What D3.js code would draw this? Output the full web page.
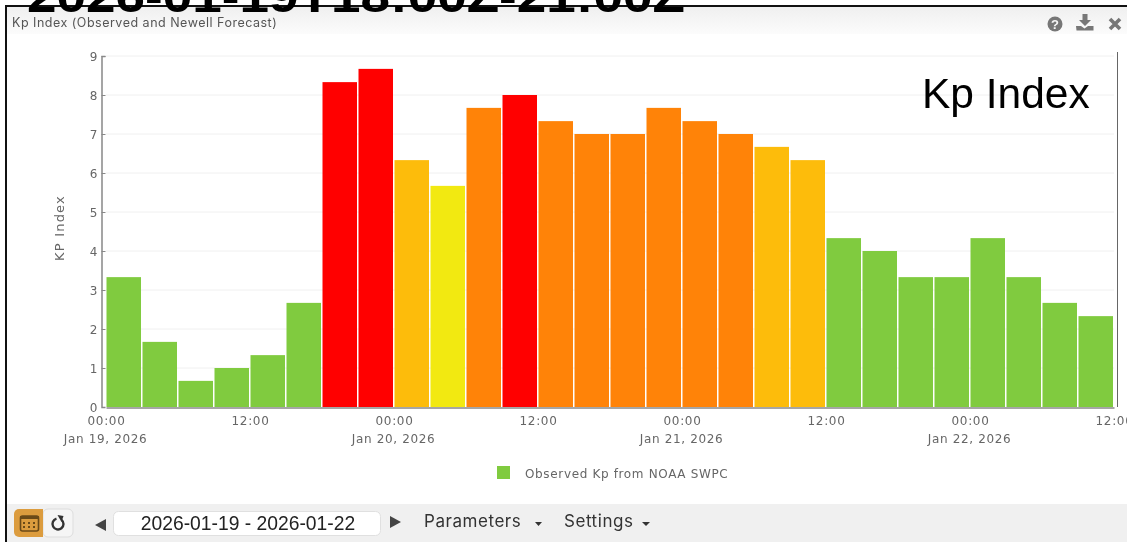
<!DOCTYPE html>
<html>
<head>
<meta charset="utf-8">
<script src="https://cdn.jsdelivr.net/npm/d3@7"></script>
<style>
  html, body { margin: 0; padding: 0; background: #fff; overflow: hidden; }
  svg { display: block; filter: blur(0.35px); }
  .tick-text { font-family: "DejaVu Sans", sans-serif; font-size: 12px; letter-spacing: 0.65px; fill: #666; }
</style>
</head>
<body>
<svg width="1127" height="542"></svg>
<script>
// 3 hourly Kp values, Jan 19 00:00 onward
const startTime = "2026-01-19T00:00:00Z";
const kpValues = [3.33, 1.67, 0.67, 1, 1.33, 2.67, 8.33, 8.67, 6.33, 5.67, 7.67, 8, 7.33, 7,
                  7, 7.67, 7.33, 7, 6.67, 6.33, 4.33, 4, 3.33, 3.33, 4.33, 3.33, 2.67, 2.33];
const kpTicks = [0, 1, 2, 3, 4, 5, 6, 7, 8, 9];
const timeTicks = ["2026-01-19T00:00:00Z", "2026-01-19T12:00:00Z", "2026-01-20T00:00:00Z",
                   "2026-01-20T12:00:00Z", "2026-01-21T00:00:00Z", "2026-01-21T12:00:00Z",
                   "2026-01-22T00:00:00Z", "2026-01-22T12:00:00Z"];
const colorBreaks = [5, 6, 7, 8];
const barColors = ["#80cb3f", "#f2e911", "#fdbc0b", "#ff8308", "#ff0000"];
const legendLabel = "Observed Kp from NOAA SWPC";

const threeHours = 3 * 3600 * 1000;
const bars = kpValues.map((v, i) => ({
    start: new Date(+new Date(startTime) + i * threeHours),
    end: new Date(+new Date(startTime) + (i + 1) * threeHours),
    kp: v
}));

const svg = d3.select("svg");

const x = d3.scaleUtc()
    .domain([new Date(startTime), bars[bars.length - 1].end])
    .range([106, 1114]);
const y = d3.scaleLinear().domain([0, 9]).range([407, 56]);
const color = d3.scaleThreshold().domain(colorBreaks).range(barColors);

// page + panel
svg.append("rect").attr("width", 1127).attr("height", 542).attr("fill", "#fff");

const grad = svg.append("defs").append("linearGradient")
    .attr("id", "head").attr("x1", 0).attr("x2", 0).attr("y1", 0).attr("y2", 1);
grad.append("stop").attr("offset", 0).attr("stop-color", "#efefef");
grad.append("stop").attr("offset", 1).attr("stop-color", "#fcfcfc");

svg.append("rect").attr("x", 7).attr("y", 7).attr("width", 1120).attr("height", 27).attr("fill", "url(#head)");
svg.append("rect").attr("x", 7).attr("y", 504).attr("width", 1120).attr("height", 38).attr("fill", "#f0f0f0");

svg.append("rect").attr("x", 5).attr("y", 5).attr("width", 2).attr("height", 537).attr("fill", "#111");
svg.append("rect").attr("x", 5).attr("y", 5).attr("width", 1122).attr("height", 2).attr("fill", "#111");

// big caption, runs off the top of the picture
svg.append("text")
    .attr("x", 27).attr("y", 11.5)
    .attr("font-family", "Liberation Sans").attr("font-weight", "bold")
    .attr("font-size", 44).attr("fill", "#000")
    .attr("textLength", 658).attr("lengthAdjust", "spacingAndGlyphs")
    .text("2026-01-19T18:00Z-21:00Z");

svg.append("text")
    .attr("x", 12).attr("y", 26.5)
    .attr("font-family", "Inter").attr("font-size", 12.5).attr("letter-spacing", 0.5).attr("fill", "#555")
    .text("Kp Index (Observed and Newell Forecast)");

// header icons
const iconColor = "#777";
svg.append("circle").attr("cx", 1055).attr("cy", 24).attr("r", 7.5).attr("fill", iconColor);
svg.append("text").attr("x", 1055).attr("y", 28.5).attr("text-anchor", "middle")
    .attr("font-family", "Liberation Sans").attr("font-weight", "bold").attr("font-size", 13)
    .attr("fill", "#f7f7f7").text("?");
svg.append("path")
    .attr("d", "M1082.5 14h5v6h3.5l-6 6-6-6h3.5zM1076 26h5l3.500 2.500 3.500-2.500h5.500v4.500h-17z")
    .attr("fill", iconColor);
svg.append("path")
    .attr("d", "M1110 19l5 5M1120 19l-5 5M1110 29l5-5M1120 29l-5-5")
    .attr("stroke", iconColor).attr("stroke-width", 3.6);

// grid
svg.append("g").selectAll("line")
    .data(kpTicks.slice(1))
    .enter().append("line")
    .attr("x1", 106).attr("x2", 1114)
    .attr("y1", d => y(d)).attr("y2", d => y(d))
    .attr("stroke", "#f0f0f0");

// bars
svg.append("g").selectAll("rect")
    .data(bars)
    .enter().append("rect")
    .attr("x", d => x(d.start) + 0.5)
    .attr("y", d => y(d.kp))
    .attr("width", d => x(d.end) - x(d.start) - 1.5)
    .attr("height", d => y(0) - y(d.kp))
    .attr("fill", d => color(d.kp));

// y axis
const yAxis = svg.append("g")
    .attr("transform", "translate(101.5,0)")
    .call(d3.axisRight(y).tickValues(kpTicks).tickSize(4).tickFormat(""));
yAxis.select(".domain").attr("stroke", "#888").attr("stroke-width", 1.5);
yAxis.selectAll(".tick line").attr("stroke", "#888");
yAxis.selectAll(".tick").filter(d => d === 0).select("line").remove();

svg.append("g").selectAll("text")
    .data(kpTicks)
    .enter().append("text")
    .attr("class", "tick-text")
    .attr("x", 98).attr("y", d => y(d) + 5)
    .attr("text-anchor", "end")
    .text(d => d);

svg.append("text")
    .attr("class", "tick-text")
    .attr("transform", "translate(64,228) rotate(-90)")
    .attr("text-anchor", "middle")
    .style("font-size", "13px")
    .style("letter-spacing", "1.2px")
    .text("KP Index");

// x axis
const xAxis = svg.append("g")
    .attr("transform", "translate(0,407.5)")
    .call(d3.axisBottom(x)
        .tickValues(timeTicks.map(d => new Date(d)))
        .tickSize(0)
        .tickFormat(d3.utcFormat("%H:%M")));
xAxis.select(".domain").attr("stroke", "#888").attr("stroke-width", 1.5);
xAxis.selectAll(".tick text")
    .attr("class", "tick-text")
    .attr("font-family", null).attr("font-size", null)
    .attr("y", 9).attr("dy", "0.71em");
xAxis.selectAll(".tick")
    .filter(d => d.getUTCHours() === 0)
    .append("text")
    .attr("class", "tick-text")
    .attr("x", -1)
    .attr("y", 27).attr("dy", "0.71em")
    .attr("text-anchor", "middle")
    .text(d3.utcFormat("%b %-d, %Y"));

// right side line
svg.append("line")
    .attr("x1", 1117.5).attr("x2", 1117.5).attr("y1", 52).attr("y2", 407)
    .attr("stroke", "#666");

// annotation
svg.append("text")
    .attr("x", 922).attr("y", 108)
    .attr("font-family", "Liberation Sans").attr("font-size", 42.5).attr("fill", "#000")
    .text("Kp Index");

// legend
svg.append("rect").attr("x", 497).attr("y", 466).attr("width", 13).attr("height", 13).attr("fill", barColors[0]);
svg.append("text")
    .attr("class", "tick-text")
    .attr("x", 525).attr("y", 477.5)
    .text(legendLabel);

// toolbar
svg.append("rect").attr("x", 43).attr("y", 509).attr("width", 30).attr("height", 28).attr("rx", 5)
    .attr("fill", "#f5f5f5").attr("stroke", "#ddd");
svg.append("path")
    .attr("d", "M19 509h24v28h-24a5 5 0 0 1-5-5v-18a5 5 0 0 1 5-5z")
    .attr("fill", "#dc9c3e");
svg.append("rect").attr("x", 20.500).attr("y", 516).attr("width", 18).attr("height", 15).attr("rx", 2)
    .attr("fill", "none").attr("stroke", "#6b4a18").attr("stroke-width", 1.6);
svg.append("rect").attr("x", 20).attr("y", 516).attr("width", 19).attr("height", 3).attr("fill", "#6b4a18");
svg.append("g").selectAll("rect")
    .data([[24, 522], [29, 522], [34, 522], [24, 526], [29, 526], [34, 526]])
    .enter().append("rect")
    .attr("x", d => d[0] - 1).attr("y", d => d[1]).attr("width", 2).attr("height", 2)
    .attr("fill", "#6b4a18");
svg.append("path")
    .attr("d", d3.arc()({innerRadius: 4.300, outerRadius: 6.700, startAngle: 0.7, endAngle: 6.0}))
    .attr("transform", "translate(58,524)")
    .attr("fill", "#333");
svg.append("path").attr("d", "M57.5 515l6 1-2 6z").attr("fill", "#333");

svg.append("path").attr("d", "M106 519v12l-11-6z").attr("fill", "#444");
svg.append("rect").attr("x", 113.500).attr("y", 511.500).attr("width", 267).attr("height", 24).attr("rx", 5)
    .attr("fill", "#fff").attr("stroke", "#e0e0e0");
svg.append("text")
    .attr("x", 248).attr("y", 530)
    .attr("text-anchor", "middle")
    .attr("font-family", "Liberation Sans").attr("font-size", 19.3).attr("fill", "#222")
    .text("2026-01-19 - 2026-01-22");
svg.append("path").attr("d", "M390 516v12l11-6z").attr("fill", "#444");

svg.append("text").attr("x", 424).attr("y", 527)
    .attr("font-family", "Inter").attr("font-size", 17).attr("letter-spacing", 0.55).attr("fill", "#333")
    .text("Parameters");
svg.append("path").attr("d", "M535 522h7l-3.500 4z").attr("fill", "#333");
svg.append("text").attr("x", 564).attr("y", 527)
    .attr("font-family", "Inter").attr("font-size", 17).attr("letter-spacing", 0.55).attr("fill", "#333")
    .text("Settings");
svg.append("path").attr("d", "M642 522h8l-4 4z").attr("fill", "#333");
</script>
</body>
</html>
